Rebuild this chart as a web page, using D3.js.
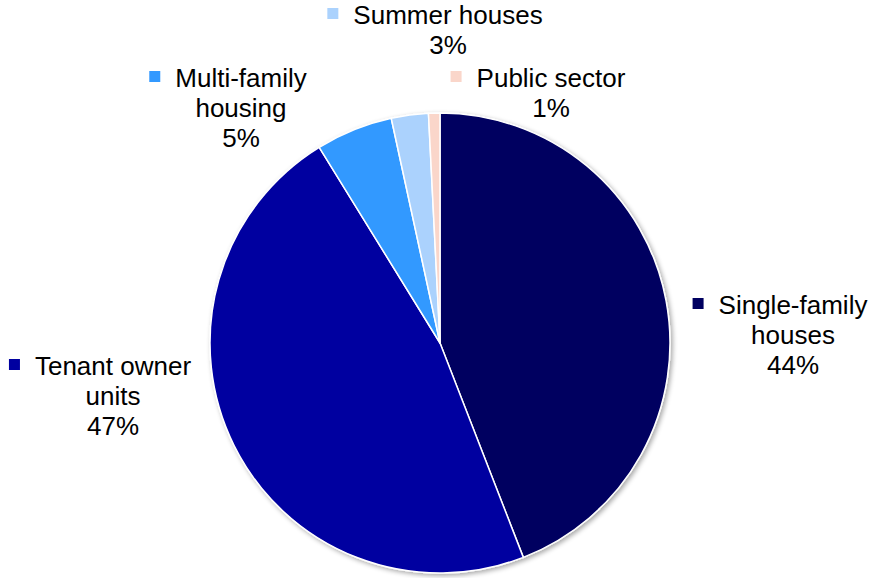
<!DOCTYPE html>
<html>
<head>
<meta charset="utf-8">
<script src="https://cdn.jsdelivr.net/npm/d3@7"></script>
<style>
  body { margin: 0; background: #fff; }
  text { font-family: "Liberation Sans", Arial, sans-serif; fill: #000; }
</style>
</head>
<body>
<script>
// Data
var categories = ['Single-family houses', 'Tenant owner units', 'Multi-family housing', 'Summer houses', 'Public sector'];
var shares = [44.1, 47.1, 5.4, 2.6, 0.8];
var colors = ['#000060', '#0000a0', '#3399ff', '#abd2fd', '#fad6ca'];
var labelLines = [['Single-family', 'houses'], ['Tenant owner', 'units'], ['Multi-family', 'housing'], ['Summer houses'], ['Public sector']];

// label anchors (centre x of text, baseline of first line)
var labelPos = [[793, 314], [113, 375], [241, 87], [448, 24], [551, 87]];

var width = 869, height = 578;
var cx = 440, cy = 343, r = 230;
var lineH = 30;

var svg = d3.select('body')
  .append('svg')
  .attr('width', width)
  .attr('height', height);

var defs = svg.append('defs');
var f = defs.append('filter').attr('id', 'shadow')
  .attr('x', '-10%').attr('y', '-10%').attr('width', '120%').attr('height', '120%');
f.append('feGaussianBlur').attr('in', 'SourceAlpha').attr('stdDeviation', 2.5).attr('result', 'b');
f.append('feOffset').attr('in', 'b').attr('dx', 2).attr('dy', 2).attr('result', 'o');
f.append('feComponentTransfer').attr('in', 'o').attr('result', 'o2')
  .append('feFuncA').attr('type', 'linear').attr('slope', 0.35);
var fm = f.append('feMerge');
fm.append('feMergeNode').attr('in', 'o2');
fm.append('feMergeNode').attr('in', 'SourceGraphic');

var pie = d3.pie().sort(null).value(function(d){ return d; });
var arc = d3.arc().innerRadius(0).outerRadius(r);

var g = svg.append('g')
  .attr('transform', 'translate(' + cx + ',' + cy + ')')
  .attr('filter', 'url(#shadow)');

g.selectAll('path')
  .data(pie(shares))
  .enter().append('path')
  .attr('d', arc)
  .style('fill', function(d, i){ return colors[i]; })
  .style('stroke', '#fff')
  .style('stroke-width', 1.5)
  .style('stroke-linejoin', 'round');

// labels
var total = d3.sum(shares);
var labels = svg.selectAll('.lbl')
  .data(categories)
  .enter().append('g')
  .attr('class', 'lbl');

labels.each(function(d, i){
  var el = d3.select(this);
  var lines = labelLines[i].concat([Math.round(shares[i] / total * 100) + '%']);
  var x = labelPos[i][0], y = labelPos[i][1];
  var first;
  lines.forEach(function(t, k){
    var tx = el.append('text')
      .attr('x', x)
      .attr('y', y + k * lineH)
      .attr('text-anchor', 'middle')
      .style('font-size', '26px')
      .text(t);
    if (k === 0) first = tx;
  });
  var w = first.node().getComputedTextLength();
  el.append('rect')
    .attr('x', x - w / 2 - 26)
    .attr('y', y - 16)
    .attr('width', 11)
    .attr('height', 11)
    .style('fill', colors[i]);
});
</script>
</body>
</html>
